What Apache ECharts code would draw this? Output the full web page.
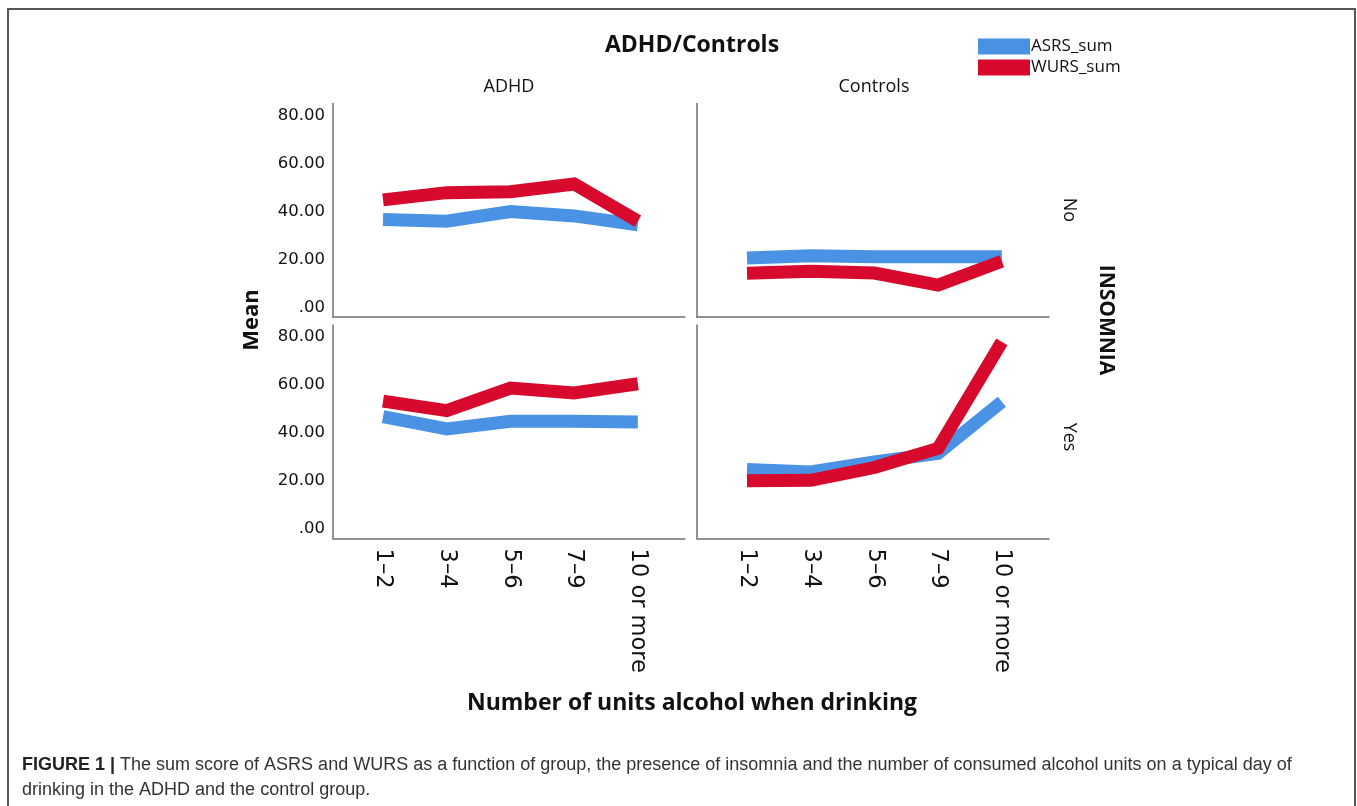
<!DOCTYPE html>
<html>
<head>
<meta charset="utf-8">
<script src="https://cdn.jsdelivr.net/npm/echarts@6/dist/echarts.min.js"></script>
<style>
  html, body { margin: 0; padding: 0; background: #fff; }
  #chart { width: 1357px; height: 806px; }
</style>
</head>
<body>
<div id="chart"></div>
<script>
// Alcohol units per drinking day (x categories)
const categories = ['1–2', '3–4', '5–6', '7–9', '10 or more'];
const yTicks = [0, 20, 40, 60, 80];

// Mean sum scores: ADHD group, no insomnia
const adhdNoASRS = [36.7, 36.0, 40.0, 38.2, 34.5];
const adhdNoWURS = [44.9, 47.9, 48.3, 51.5, 36.0];
// Controls, no insomnia
const ctrlNoASRS = [20.7, 21.6, 21.2, 21.2, 21.2];
const ctrlNoWURS = [14.3, 15.1, 14.4, 9.4, 19.3];
// ADHD group, insomnia
const adhdYesASRS = [46.8, 41.7, 44.9, 44.9, 44.6];
const adhdYesWURS = [53.3, 49.3, 58.7, 56.7, 60.5];
// Controls, insomnia
const ctrlYesASRS = [24.8, 23.8, 27.9, 31.5, 53.0];
const ctrlYesWURS = [20.1, 20.3, 25.6, 33.6, 78.0];

const BLUE = '#4a93e4';
const RED = '#d70a2d';
const AXIS = '#707070';
const tickFont = 'DejaVu Sans';
const textFont = 'Open Sans';

const panels = [
  { left: 333, top: 103.6, height: 213.6, asrs: adhdNoASRS, wurs: adhdNoWURS, yLabels: true, xLabels: false },
  { left: 697, top: 103.6, height: 213.6, asrs: ctrlNoASRS, wurs: ctrlNoWURS, yLabels: false, xLabels: false },
  { left: 333, top: 325, height: 213.6, asrs: adhdYesASRS, wurs: adhdYesWURS, yLabels: true, xLabels: true },
  { left: 697, top: 325, height: 213.6, asrs: ctrlYesASRS, wurs: ctrlYesWURS, yLabels: false, xLabels: true }
];

const toPairs = arr => arr.map((v, i) => [i, v]);

const grid = panels.map(p => ({
  left: p.left, top: p.top, width: 352, height: p.height,
  containLabel: false, outerBoundsMode: 'none'
}));

const xAxis = panels.map((p, k) => ({
  type: 'value', gridIndex: k, min: -0.785, max: 4.74,
  axisLine: { show: true, onZero: false, lineStyle: { color: AXIS, width: 1.5 } },
  axisTick: { show: false },
  splitLine: { show: false },
  axisLabel: {
    show: p.xLabels,
    customValues: categories.map((c, i) => i),
    formatter: v => categories[Math.round(v)],
    rotate: -90,
    margin: 10,
    color: '#111',
    fontFamily: tickFont,
    fontSize: 22.5
  }
}));

const yAxis = panels.map((p, k) => ({
  type: 'value', gridIndex: k, min: -4, max: 85,
  axisLine: { show: true, onZero: false, lineStyle: { color: AXIS, width: 1.5 } },
  axisTick: { show: false },
  splitLine: { show: false },
  axisLabel: {
    show: p.yLabels,
    customValues: yTicks,
    formatter: v => (v === 0 ? '.00' : v.toFixed(2)),
    margin: 8,
    color: '#111',
    fontFamily: tickFont,
    fontSize: 16.5
  }
}));

const lineSeries = (name, data, color, k) => ({
  name, type: 'line', xAxisIndex: k, yAxisIndex: k,
  data: toPairs(data),
  symbol: 'none',
  lineStyle: { color, width: 13, cap: 'butt', join: 'miter' },
  itemStyle: { color },
  animation: false
});

const series = [];
panels.forEach((p, k) => {
  series.push(lineSeries('ASRS_sum', p.asrs, BLUE, k));
  series.push(lineSeries('WURS_sum', p.wurs, RED, k));
});

const txt = (x, y, text, size, weight, rotation, family, color) => ({
  type: 'text', x, y, rotation: rotation || 0,
  style: {
    text, fontSize: size, fontWeight: weight || 'normal',
    fontFamily: family || textFont, fill: color || '#111',
    align: 'center', verticalAlign: 'middle'
  }
});

const option = {
  backgroundColor: '#fff',
  animation: false,
  grid, xAxis, yAxis, series,
  legend: {
    left: 973, top: 33, orient: 'vertical',
    itemWidth: 52, itemHeight: 16, itemGap: 4,
    icon: 'rect',
    data: ['ASRS_sum', 'WURS_sum'],
    textStyle: { fontFamily: textFont, fontSize: 17, color: '#111', padding: [0, 0, 0, -4] }
  },
  graphic: [
    // figure frame
    { type: 'rect', shape: { x: 8, y: 9, width: 1347, height: 810 },
      style: { fill: 'none', stroke: '#555', lineWidth: 2 } },
    txt(692, 45, 'ADHD/Controls', 23, 'bold'),
    txt(509, 87, 'ADHD', 18),
    txt(874, 87, 'Controls', 18),
    txt(1069, 210, 'No', 18, 'normal', -Math.PI / 2),
    txt(1069, 437, 'Yes', 18, 'normal', -Math.PI / 2),
    txt(1106, 320, 'INSOMNIA', 21, 'bold', -Math.PI / 2),
    txt(252, 320, 'Mean', 22, 'bold', Math.PI / 2),
    txt(692, 703, 'Number of units alcohol when drinking', 23, 'bold'),
    {
      type: 'text', x: 22, y: 765,
      style: {
        text: '{b|FIGURE 1 |} The sum score of ASRS and WURS as a function of group, the presence of insomnia and the number of consumed alcohol units on a typical day of',
        fontFamily: 'Liberation Sans', fontSize: 18, fill: '#333', verticalAlign: 'middle',
        rich: { b: { fontWeight: 'bold', fontFamily: 'Liberation Sans', fontSize: 18, fill: '#222' } }
      }
    },
    {
      type: 'text', x: 22, y: 790,
      style: {
        text: 'drinking in the ADHD and the control group.',
        fontFamily: 'Liberation Sans', fontSize: 18, fill: '#333', verticalAlign: 'middle'
      }
    }
  ]
};

const chart = echarts.init(document.getElementById('chart'), null, { renderer: 'canvas' });
chart.setOption(option);
</script>
</body>
</html>
